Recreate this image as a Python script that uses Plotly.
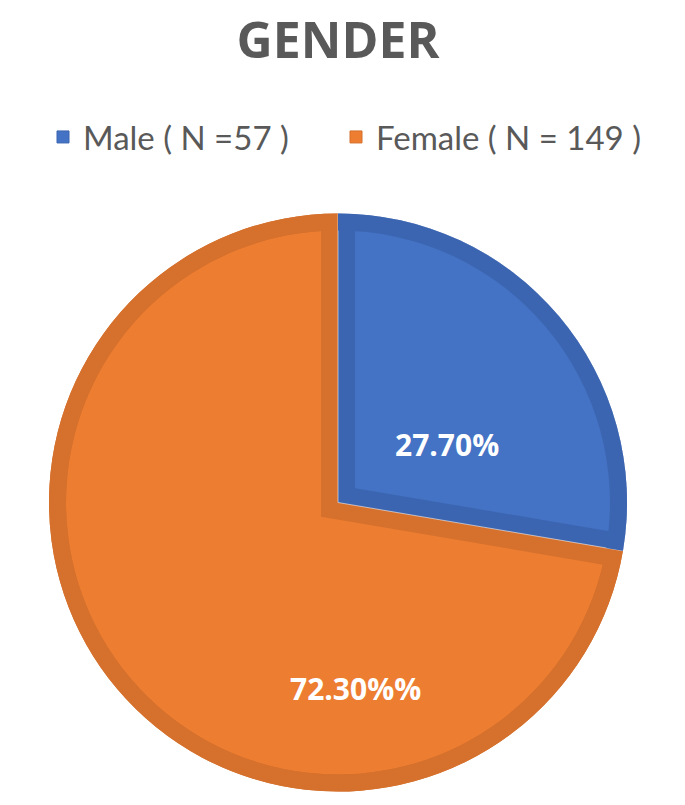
import math
import plotly.graph_objects as go

# ---- data ----
categories = ["Male ( N =57 )", "Female ( N = 149 )"]
counts = [57, 149]
pct_labels = ["27.70%", "72.30%%"]
chart_title = "GENDER"

# ---- styles ----
fill_colors = ["#4472C4", "#ED7D31"]
edge_colors = ["#3B65B0", "#D5712D"]
TRANSP = "rgba(0,0,0,0)"
TEXT_GRAY = "#595959"

# ---- layout geometry (pixels) ----
W, H = 685, 805
CX, CY, R, B = 338, 502.5, 289, 17

total = sum(counts)
half = math.radians(360 * counts[0] / total / 2)   # half angle of first slice
ux, uy = math.sin(half), -math.cos(half)           # bisector in screen coords
s = B / math.sin(half)                              # apex offset for a band of width B


def domain(cx, cy, r):
    return dict(x=[(cx - r) / W, (cx + r) / W], y=[1 - (cy + r) / H, 1 - (cy - r) / H])


def pie(colors, cx, cy, r, hole=0, line_colors=None, line_width=0):
    return go.Pie(
        labels=categories, values=counts, sort=False, direction="clockwise", rotation=0,
        marker=dict(colors=colors,
                    line=dict(width=line_width, color=line_colors if line_colors else TRANSP)),
        domain=domain(cx, cy, r), hole=hole, textinfo="none", hoverinfo="skip",
        showlegend=False,
    )


traces = []
# legend carriers (tiny, hidden under the pie), one legend per category
for i, lg in enumerate(["legend", "legend2"]):
    traces.append(go.Pie(
        labels=[categories[i]], values=[counts[i]], sort=False,
        marker=dict(colors=[fill_colors[i]], line=dict(width=1, color=edge_colors[i])),
        domain=domain(CX, CY, 3), textinfo="none", hoverinfo="skip",
        showlegend=True, legend=lg,
    ))
# a: full disk in border colours
traces.append(pie(edge_colors, CX, CY, R))
# b: inner disk light orange
traces.append(pie([fill_colors[1], fill_colors[1]], CX, CY, R - B))
# c: first slice dilated by B (gives the radial borders of the second slice)
cx3, cy3 = CX - s * ux, CY - s * uy
a_ = s * math.cos(half)
r3_ideal = a_ + math.sqrt(a_ ** 2 - s ** 2 + (R - 3) ** 2)
r3 = min(r3_ideal, H - cy3 - 0.5, cy3 - 0.5, cx3 - 0.5, W - cx3 - 0.5)
traces.append(pie([edge_colors[1], TRANSP], cx3, cy3, r3))
# c2: outer ring of second slice
traces.append(pie([TRANSP, edge_colors[1]], CX, CY, R, hole=(R - B) / R))
# d: first slice in border colour, thin light separator
traces.append(pie([edge_colors[0], TRANSP], CX, CY, R,
                  line_colors=["rgba(255,255,255,0.55)", TRANSP], line_width=1))
# e: first slice eroded by B
cx5, cy5 = CX + s * ux, CY + s * uy
traces.append(pie([fill_colors[0], TRANSP], cx5, cy5, R - 1.5 - s))
# f: outer ring of first slice
traces.append(pie([edge_colors[0], TRANSP], CX, CY, R, hole=(R - B) / R))

fig = go.Figure(traces)

label_pos = [(447, 444), (355, 688)]
annotations = []
for txt, (px, py) in zip(pct_labels, label_pos):
    annotations.append(dict(
        text=txt, x=px / W, y=1 - py / H, xref="paper", yref="paper",
        xanchor="center", yanchor="middle", showarrow=False,
        font=dict(family="Open Sans", size=30, color="white", weight=700),
    ))

legend_common = dict(orientation="h", xanchor="left", yanchor="middle", y=1 - 137 / H,
                     font=dict(family="Lato", size=33, color=TEXT_GRAY),
                     bgcolor="rgba(0,0,0,0)")

fig.update_layout(
    width=W, height=H, autosize=False,
    margin=dict(l=0, r=0, t=0, b=0),
    paper_bgcolor="white", plot_bgcolor="white",
    title=dict(text=chart_title, x=CX / W, xanchor="center", y=1 - 40 / H, yanchor="middle",
               xref="container", yref="container",
               font=dict(family="Open Sans", size=50, color=TEXT_GRAY, weight=700)),
    legend=dict(x=43 / W, **legend_common),
    legend2=dict(x=336 / W, **legend_common),
    annotations=annotations,
)

fig.write_html("out.html", config={"displayModeBar": False},
               post_script="document.body.style.margin='0';document.body.style.overflow='hidden';")
